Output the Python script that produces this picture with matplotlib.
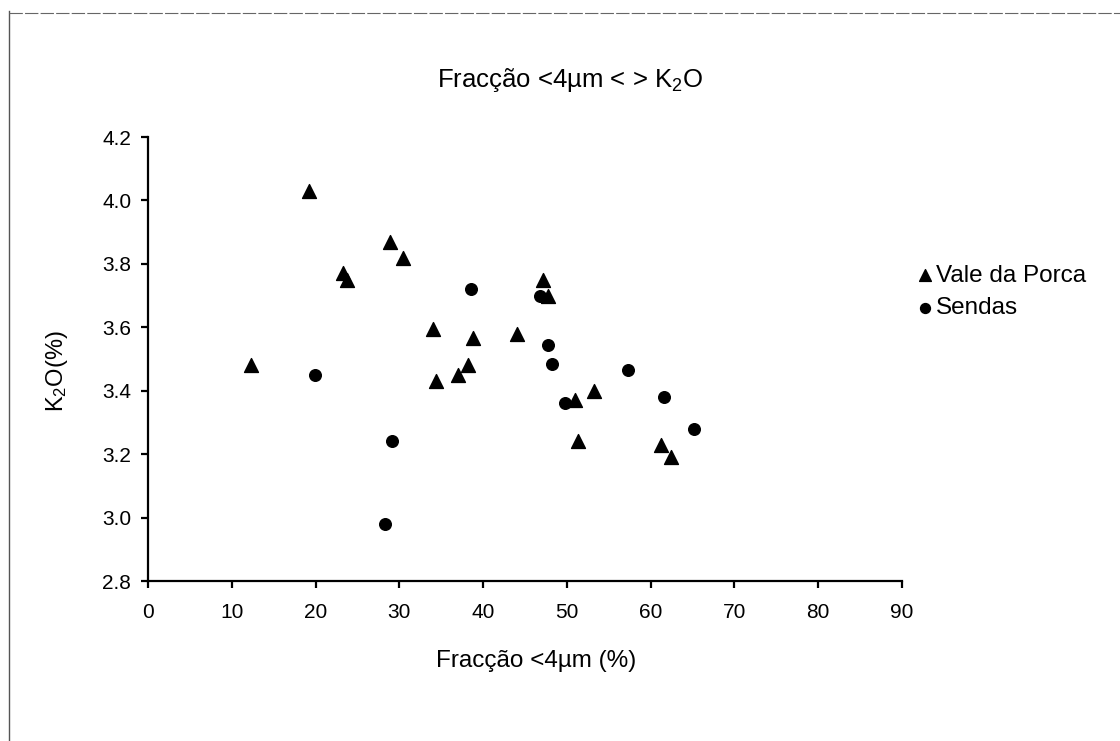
import numpy as np
import matplotlib
matplotlib.use('Agg')
import matplotlib.pyplot as plt
from matplotlib.lines import Line2D
from matplotlib.ticker import FormatStrFormatter

plt.rcParams['font.family'] = ['Liberation Sans', 'DejaVu Sans']
plt.rcParams['mathtext.fontset'] = 'custom'
plt.rcParams['mathtext.rm'] = 'Liberation Sans'
plt.rcParams['mathtext.it'] = 'Liberation Sans:italic'
plt.rcParams['mathtext.default'] = 'regular'

# Vale da Porca (triangles)
vp_x = [12.3, 19.2, 23.3, 23.7, 28.9, 30.4, 34.0, 34.4, 37.0, 38.2, 38.8, 44.0,
        47.1, 47.7, 51.0, 51.3, 53.2, 61.2, 62.4]
vp_y = [3.48, 4.03, 3.77, 3.75, 3.87, 3.82, 3.595, 3.43, 3.45, 3.48, 3.566, 3.58,
        3.75, 3.70, 3.37, 3.24, 3.40, 3.23, 3.19]

# Sendas (circles)
se_x = [19.9, 28.3, 29.1, 38.6, 46.8, 47.7, 48.2, 49.8, 57.3, 61.6, 65.2]
se_y = [3.45, 2.98, 3.24, 3.72, 3.70, 3.544, 3.484, 3.36, 3.465, 3.38, 3.28]

fig = plt.figure(figsize=(11.2, 7.41), dpi=100)
ax = fig.add_axes([0.1321, 0.2159, 0.6733, 0.5992])

ax.scatter(vp_x, vp_y, marker='^', s=100, color='black', label='Vale da Porca', zorder=3)
ax.scatter(se_x, se_y, marker='o', s=70, color='black', label='Sendas', zorder=3)

ax.set_xlim(0, 90)
ax.set_ylim(2.8, 4.2)
ax.set_xticks(np.arange(0, 91, 10))
ax.set_yticks(np.arange(2.8, 4.21, 0.2))
ax.yaxis.set_major_formatter(FormatStrFormatter('%.1f'))
for s in ['top', 'right']:
    ax.spines[s].set_visible(False)
for s in ['left', 'bottom']:
    ax.spines[s].set_linewidth(1.6)
ax.tick_params(direction='out', length=5, width=1.6, labelsize=15)
ax.tick_params(axis='x', pad=11)
ax.tick_params(axis='y', pad=7)

fig.text(0.509, 0.892, 'Fracção <4µm < > K$_2$O', fontsize=18.5, ha='center', va='center')
fig.text(0.479, 0.108, 'Fracção <4µm (%)', fontsize=17.5, ha='center', va='center')
fig.text(0.051, 0.499, 'K$_2$O(%)', fontsize=17, ha='center', va='center', rotation=90)

ax.legend(loc='center left', bbox_to_anchor=(1.018, 0.651), frameon=False,
          fontsize=17.5, handletextpad=0.05, handlelength=0.8, markerscale=0.85,
          labelspacing=0.45, borderpad=0, borderaxespad=0)

# scanned page frame
fig.add_artist(Line2D([0.008, 0.008], [0, 0.985], color='#555555', lw=1, transform=fig.transFigure))
fig.add_artist(Line2D([0.008, 1.0], [0.983, 0.983], color='#666666', lw=0.8, ls=(0, (12, 2)), transform=fig.transFigure))

fig.savefig('out.png', dpi=100, facecolor='white')
